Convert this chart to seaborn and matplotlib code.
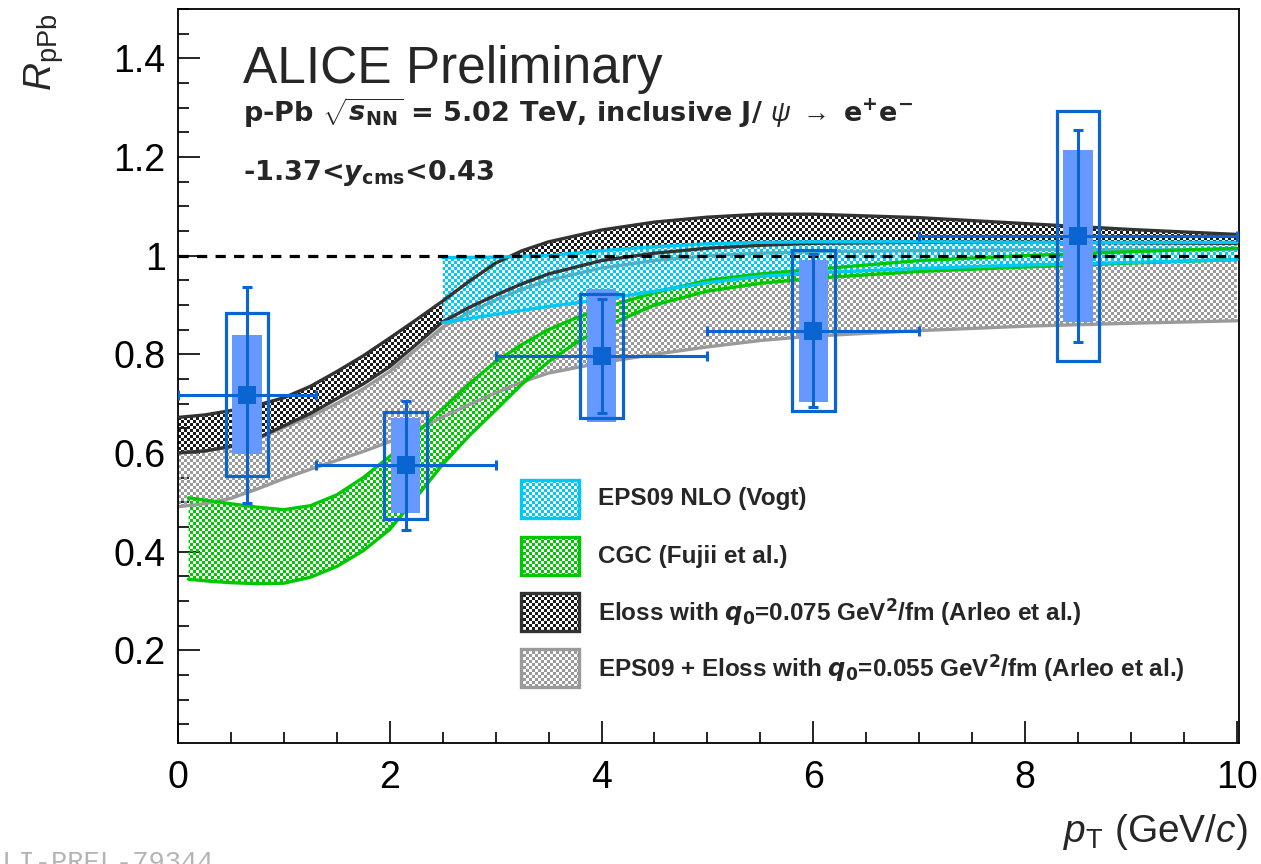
import numpy as np
import matplotlib
matplotlib.use('Agg')
import matplotlib.pyplot as plt
from matplotlib.patches import Rectangle
from matplotlib.ticker import MultipleLocator, FuncFormatter
from matplotlib.colors import to_rgb
import seaborn as sns

# ---- J/psi R_pPb measurement
pt = [0.65, 2.15, 4.0, 6.0, 8.5]
pt_lo = [0.0, 1.3, 3.0, 5.0, 7.0]
pt_hi = [1.3, 3.0, 5.0, 7.0, 10.0]
rppb = [0.718, 0.575, 0.797, 0.848, 1.040]
err_stat = [0.219, 0.131, 0.115, 0.155, 0.215]
err_syst = [0.165, 0.108, 0.126, 0.163, 0.253]   # open boxes
err_corr = [0.121, 0.096, 0.135, 0.144, 0.175]   # filled boxes

# ---- model bands
band_x = [0, 0.25, 0.5, 0.75, 1, 1.25, 1.5, 1.75, 2, 2.25, 2.5, 2.75, 3, 3.25, 3.5,
          4, 4.5, 5, 5.5, 6, 7, 8, 9, 10]
eloss_hi = [0.672, 0.677, 0.686, 0.697, 0.712, 0.735, 0.765, 0.797, 0.833, 0.870,
            0.908, 0.948, 0.985, 1.010, 1.028, 1.052, 1.068, 1.078, 1.084, 1.084,
            1.077, 1.065, 1.053, 1.043]
eloss_lo = [0.600, 0.604, 0.613, 0.630, 0.655, 0.680, 0.710, 0.740, 0.775, 0.820,
            0.866, 0.895, 0.920, 0.943, 0.963, 0.990, 1.005, 1.015, 1.021, 1.025,
            1.027, 1.027, 1.026, 1.025]
eps_eloss_hi = [0.600, 0.604, 0.613, 0.628, 0.652, 0.674, 0.700, 0.730, 0.765, 0.810,
                0.855, 0.885, 0.910, 0.932, 0.950, 0.975, 0.990, 1.000, 1.005, 1.008,
                1.010, 1.012, 1.012, 1.012]
eps_eloss_lo = [0.491, 0.497, 0.508, 0.527, 0.548, 0.567, 0.585, 0.603, 0.623, 0.647,
                0.673, 0.698, 0.722, 0.744, 0.762, 0.783, 0.800, 0.815, 0.828, 0.837,
                0.848, 0.857, 0.863, 0.868]

cgc_x = [0.1, 0.3, 0.5, 0.75, 1, 1.25, 1.5, 1.75, 2, 2.25, 2.5, 2.75, 3, 3.25, 3.5,
         3.75, 4, 4.5, 5, 5.5, 6, 7, 8, 9, 10]
cgc_hi = [0.509, 0.503, 0.497, 0.490, 0.485, 0.493, 0.515, 0.550, 0.593, 0.640,
          0.690, 0.740, 0.785, 0.820, 0.850, 0.873, 0.893, 0.925, 0.950, 0.963,
          0.972, 0.990, 1.000, 1.008, 1.015]
cgc_lo = [0.344, 0.340, 0.337, 0.335, 0.336, 0.348, 0.370, 0.402, 0.445, 0.510,
          0.577, 0.635, 0.687, 0.740, 0.785, 0.822, 0.853, 0.900, 0.928, 0.944,
          0.954, 0.968, 0.977, 0.985, 0.992]

vogt_x = [2.5, 3, 3.5, 4, 4.5, 5, 5.5, 6, 7, 8, 9, 10]
vogt_hi = [0.996, 0.997, 1.000, 1.010, 1.018, 1.024, 1.027, 1.028, 1.028, 1.027, 1.027, 1.027]
vogt_lo = [0.864, 0.881, 0.897, 0.911, 0.928, 0.945, 0.958, 0.965, 0.974, 0.981, 0.986, 0.992]

legend_labels = [
    'EPS09 NLO (Vogt)',
    'CGC (Fujii et al.)',
    r'Eloss with $\mathbfit{q}_{\mathbf{0}}$=0.075 GeV$^{\mathbf{2}}$/fm (Arleo et al.)',
    r'EPS09 + Eloss with $\mathbfit{q}_{\mathbf{0}}$=0.055 GeV$^{\mathbf{2}}$/fm (Arleo et al.)',
]

BLUE = '#0a64d2'
LIGHTBLUE = '#6699ff'
CYAN = '#00c8f5'
GREEN = '#00c800'
DARK = '#333333'
GREY = '#9a9a9a'

sns.set_style('ticks')
plt.rcParams['font.family'] = ['Liberation Sans', 'DejaVu Sans']
plt.rcParams['mathtext.fontset'] = 'custom'
plt.rcParams['mathtext.rm'] = 'Liberation Sans'
plt.rcParams['mathtext.it'] = 'Liberation Sans:italic'
plt.rcParams['mathtext.bf'] = 'DejaVu Sans:bold'
plt.rcParams['mathtext.bfit'] = 'DejaVu Sans:italic:bold'

W_PX, H_PX = 1261, 864
AX_L, AX_R, AX_T, AX_B = 178, 1239, 9, 743
XMIN, XMAX, YMIN, YMAX = 0.0, 10.02, 0.012, 1.5

fig = plt.figure(figsize=(W_PX / 100, H_PX / 100), dpi=100)
ax = fig.add_axes([AX_L / W_PX, (H_PX - AX_B) / H_PX,
                   (AX_R - AX_L) / W_PX, (AX_B - AX_T) / H_PX])
AW, AH = AX_R - AX_L, AX_B - AX_T


def checker(color, cell=3):
    rgba = np.zeros((AH, AW, 4))
    yy, xx = np.indices((AH, AW))
    on = ((yy // cell + xx // cell) % 2) == 0
    rgba[on, :3] = to_rgb(color)
    rgba[on, 3] = 1.0
    return rgba


def pattern(color, clip, transform=None, z=2):
    im = ax.imshow(checker(color), extent=(XMIN, XMAX, YMIN, YMAX), aspect='auto',
                   interpolation='nearest', zorder=z)
    if transform is None:
        im.set_clip_path(clip)
    else:
        im.set_clip_path(clip, transform)
    return im


def draw_band(x, lo, hi, fill, edge, z):
    poly = ax.fill_between(x, lo, hi, facecolor='none', edgecolor='none', zorder=z)
    pattern(fill, poly.get_paths()[0], ax.transData, z)
    sns.lineplot(x=x, y=lo, color=edge, linewidth=2.4, ax=ax, zorder=z + 0.5)
    sns.lineplot(x=x, y=hi, color=edge, linewidth=2.4, ax=ax, zorder=z + 0.5)


draw_band(band_x, eps_eloss_lo, eps_eloss_hi, '#9a9a9a', GREY, 2.0)
draw_band(band_x, eloss_lo, eloss_hi, '#1a1a1a', DARK, 2.2)
draw_band(cgc_x, cgc_lo, cgc_hi, '#00c800', GREEN, 2.4)
draw_band(vogt_x, vogt_lo, vogt_hi, '#00c8f5', CYAN, 2.6)

ax.axhline(1.0, color='black', lw=2.3, linestyle=(0, (3.2, 2.6)), zorder=3.5)

# data points with boxes
for x, y, ec, es in zip(pt, rppb, err_corr, err_syst):
    ax.add_patch(Rectangle((x - 0.14, y - ec), 0.28, 2 * ec, facecolor=LIGHTBLUE,
                           edgecolor='none', zorder=5))
    ax.add_patch(Rectangle((x - 0.2, y - es), 0.4, 2 * es, facecolor='none',
                           edgecolor=BLUE, lw=2.3, zorder=6))

xerr = [np.array(pt) - np.array(pt_lo), np.array(pt_hi) - np.array(pt)]
ax.errorbar(pt, rppb, xerr=xerr, yerr=err_stat, fmt='none', ecolor=BLUE,
            elinewidth=2.2, capsize=3.5, capthick=2.2, zorder=7)
sns.scatterplot(x=pt, y=rppb, marker='s', s=150, color=BLUE, edgecolor=BLUE,
                linewidth=0, ax=ax, zorder=8)

# legend, drawn by hand to keep the pattern fill
leg_fill = ['#00c8f5', '#00c800', '#1a1a1a', '#9a9a9a']
leg_edge = [CYAN, GREEN, DARK, GREY]
leg_y = [499, 556, 612, 668]
for lab, fc, edc, yc in zip(legend_labels, leg_fill, leg_edge, leg_y):
    bx = (521 - AX_L) / AW
    by = (AX_B - (yc + 19)) / AH
    rect = Rectangle((bx, by), 58 / AW, 38 / AH, transform=ax.transAxes,
                     facecolor='none', edgecolor=edc, lw=2.4, zorder=9)
    ax.add_patch(rect)
    pattern(fc, rect, z=8.5)
    ax.text((598 - AX_L) / AW, (AX_B - yc) / AH, lab, transform=ax.transAxes,
            fontsize=17.5, fontweight='bold', va='center', ha='left', zorder=9)

ax.set_xlim(XMIN, XMAX)
ax.set_ylim(YMIN, YMAX)
ax.xaxis.set_major_locator(MultipleLocator(2))
ax.xaxis.set_minor_locator(MultipleLocator(0.5))
ax.yaxis.set_major_locator(MultipleLocator(0.2))
ax.yaxis.set_minor_locator(MultipleLocator(0.05))
ax.yaxis.set_major_formatter(FuncFormatter(lambda v, _: f'{v:g}'))
ax.xaxis.set_major_formatter(FuncFormatter(lambda v, _: f'{v:g}'))
ax.tick_params(which='both', direction='in', top=False, right=False, width=1.2,
               labelsize=27, colors='black')
ax.tick_params(which='major', length=16)
ax.tick_params(which='minor', length=8)
ax.tick_params(axis='x', pad=12)
ax.tick_params(axis='y', pad=9)
for sp in ax.spines.values():
    sp.set_linewidth(1.3)
    sp.set_color('black')
    sp.set_visible(True)

fig.text(243 / W_PX, 1 - 83 / H_PX, 'ALICE Preliminary', fontsize=37, va='baseline')
fig.text(243 / W_PX, 1 - 122 / H_PX,
         r'p-Pb $\sqrt{\mathbfit{s}_{\mathbf{NN}}}$ = 5.02 TeV, inclusive J/ $\psi\ \rightarrow$ e$^{\mathbf{+}}$e$^{\mathbf{-}}$',
         family='DejaVu Sans', fontsize=19.5, fontweight='bold', va='baseline')
fig.text(243 / W_PX, 1 - 180 / H_PX,
         r'-1.37<$\mathbfit{y}_{\mathbf{cms}}$<0.43',
         family='DejaVu Sans', fontsize=19.5, fontweight='bold', va='baseline')

fig.text(44 / W_PX, 1 - 14 / H_PX, r'$R_{\rm pPb}$', fontsize=28, rotation=90,
         ha='center', va='top')
fig.text(1248 / W_PX, 1 - 842 / H_PX, r'$p_{\rm T}$ (GeV/$c$)', fontsize=28,
         ha='right', va='baseline')
fig.text(-14 / W_PX, -6 / H_PX, 'ALI-PREL-79344', family='Liberation Mono',
         fontsize=19.5, color='#b4b4b4', va='baseline')

fig.savefig('out.png', dpi=100)
